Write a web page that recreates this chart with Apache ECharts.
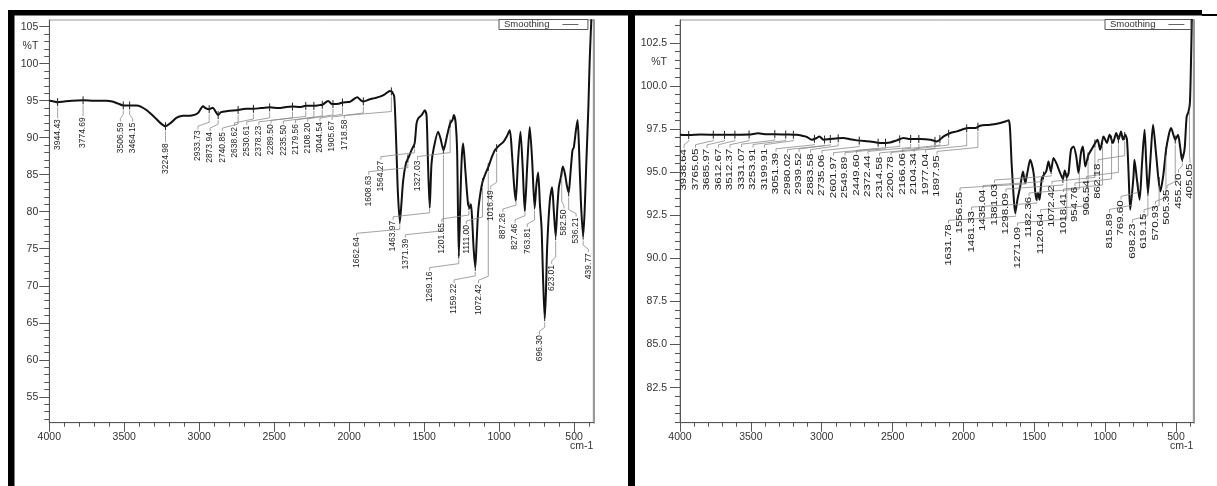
<!DOCTYPE html>
<html><head><meta charset="utf-8">
<script src="https://cdn.jsdelivr.net/npm/echarts@6/dist/echarts.min.js"></script>
<style>html,body{margin:0;padding:0;background:#fff}#c{width:1217px;height:486px}</style>
</head><body><div id="c"></div><script>
// ---------- data ----------
const seriesName = 'Smoothing';
const yUnit = '%T';
const xUnit = 'cm-1';

const leftWn = [4000,3970,3944,3900,3850,3774,3700,3620,3580,3540,3506,3464,3420,3390,3350,3300,3260,3225,3190,3150,3110,3050,3010,2990,2975,2955,2933,2910,2893,2874,2855,2810,2740,2690,2638,2590,2530,2470,2420,2378,2330,2289,2235,2200,2179,2140,2120,2108,2070,2044,2020,1995,1946,1925,1906,1862,1830,1795,1760,1740,1729,1718,1711,1700,1693,1685,1675,1662,1652,1640,1622,1608,1602,1585,1564,1551,1540,1517,1495,1484,1475,1463,1451,1435,1407,1391,1371,1347,1327,1311,1302,1290,1280,1269,1260,1250,1240,1225,1207,1195,1188,1180,1170,1159,1150,1140,1125,1111,1090,1073,1050,1029,1016,996,973,951,929,915,900,889,875,858,843,829,812,796,780,763,752,740,728,717,707,696,688,680,662,647,635,623,612,602,589,575,560,548,536,527,511,502,488,477,468,455,440,430,418,405,396,385];
const leftT = [95.0,94.9,94.8,94.9,95.0,95.05,95.0,95.0,94.9,94.6,94.35,94.35,94.35,94.2,93.7,92.8,92.0,91.55,92.0,92.7,92.95,93.0,93.3,93.9,94.25,93.95,93.85,94.05,93.6,93.05,93.45,93.6,93.75,93.9,93.9,94.0,94.1,94.0,94.15,94.2,94.15,94.3,94.3,94.4,94.45,94.95,94.6,94.55,94.6,94.75,94.8,94.85,95.45,95.1,94.9,95.2,95.35,95.55,95.9,96.2,96.3,96.25,96.1,95.6,93.0,88.5,82.5,78.65,81.0,84.2,86.5,87.2,87.4,88.3,89.2,91.9,92.6,93.05,93.7,93.0,87.0,80.55,86.5,88.7,90.8,89.9,88.3,90.3,91.9,92.4,93.05,92.0,88.0,74.0,80.5,87.0,89.2,85.5,81.0,80.5,81.0,79.0,75.0,72.5,76.0,80.0,82.5,84.0,85.2,86.0,87.3,88.3,88.6,89.0,89.4,90.1,91.0,88.0,83.5,81.5,86.5,90.8,86.0,80.1,86.5,91.45,87.0,80.55,83.5,85.3,81.0,77.8,71.0,65.6,69.0,75.1,81.5,83.3,80.0,76.7,80.5,83.3,84.6,86.1,85.0,83.5,82.6,84.5,88.3,88.7,91.0,92.4,89.0,81.5,76.7,80.0,86.9,94.0,100.5,106];

const rightWn = [4000,3938,3850,3765,3686,3613,3512,3449,3400,3331,3254,3200,3176,3105,3070,3035,3016,2988,2941,2900,2847,2800,2752,2700,2658,2588,2517,2470,2423,2376,2305,2234,2187,2140,2093,2046,1999,1964,1917,1882,1811,1740,1700,1681,1672,1660,1645,1635,1619,1599,1580,1564,1548,1529,1505,1486,1474,1463,1446,1416,1400,1383,1364,1340,1320,1298,1285,1271,1258,1241,1223,1204,1188,1171,1157,1140,1117,1090,1070,1054,1035,1011,988,969,945,922,906,888,874,858,846,835,823,800,793,775,757,740,722,710,698,680,662,640,611,590,570,550,535,505,486,470,458,440,425,412,402,395,387];
const rightT = [97.17,97.15,97.18,97.17,97.16,97.17,97.18,97.25,97.2,97.2,97.18,97.17,97.16,97.04,96.88,96.98,97.07,96.88,96.92,96.95,96.98,96.9,96.84,96.8,96.78,96.69,96.72,96.84,96.98,96.92,96.92,96.88,96.78,97.07,97.27,97.36,97.5,97.56,97.56,97.69,97.75,97.85,97.95,98.0,97.6,95.5,93.5,92.63,93.4,94.17,95.04,94.37,95.0,95.72,94.95,93.4,93.79,93.4,94.66,95.04,95.62,95.04,95.82,95.43,95.0,94.6,95.1,94.7,94.95,96.3,96.49,95.91,94.95,96.1,96.49,95.33,96.01,96.4,96.69,96.88,96.3,97.07,96.69,97.17,96.69,97.27,96.88,97.36,96.88,97.17,96.88,95.0,92.82,94.75,95.72,94.5,93.4,95.5,97.46,95.5,93.79,95.8,97.75,96.0,93.88,94.8,96.3,97.2,97.56,96.88,97.17,96.4,95.72,96.3,98.2,98.5,99.0,101.1,104.5];

const leftPeaks = [3944.43,3774.69,3506.59,3464.15,3224.98,2933.73,2873.94,2740.85,2638.62,2530.61,2378.23,2289.50,2235.50,2179.56,2108.20,2044.54,1905.67,1718.58,1662.64,1608.63,1564.27,1463.97,1371.39,1327.03,1269.16,1201.65,1159.22,1111.00,1072.42,1016.49,887.26,827.46,763.81,696.30,623.01,582.50,536.21,439.77];
const rightPeaks = [3938.64,3765.05,3685.97,3612.67,3512.37,3331.07,3253.91,3199.91,3051.39,2980.02,2939.52,2883.58,2735.06,2601.97,2549.89,2449.60,2372.44,2314.58,2200.78,2166.06,2104.34,1977.04,1897.95,1631.78,1556.55,1481.33,1435.04,1381.03,1298.09,1271.09,1182.36,1120.64,1072.42,1018.41,954.76,906.54,862.18,815.89,769.60,698.23,619.15,570.93,505.35,455.20,405.05];

const xMajorTicks = [4000,3500,3000,2500,2000,1500,1000,500];
const xMinorTicks = [4000,3900,3800,3700,3600,3500,3400,3300,3200,3100,3000,2900,2800,2700,2600,2500,2400,2300,2200,2100,2000,1900,1800,1700,1600,1500,1400,1300,1200,1100,1000,900,800,700,600,500,400];
const leftYMajor = [55,60,65,70,75,80,85,90,95,100,105];
const leftYUnitAt = 102.4;
const rightYMajor = [82.5,85,87.5,90,92.5,95,97.5,100,102.5];
const rightYUnitAt = 101.4;

// ---------- helpers ----------
function range(a, b, s) { const r = []; for (let v = a; v <= b + 1e-9; v += s) r.push(+v.toFixed(2)); return r; }
const leftYMinor = range(52, 105, 1);
const rightYMinor = range(80.5, 103.5, 0.5);

function interp(wn, ws, ts) {
  for (let i = 0; i < ws.length - 1; i++) {
    if (wn <= ws[i] && wn >= ws[i + 1]) {
      const f = (ws[i] - wn) / (ws[i] - ws[i + 1]);
      return ts[i] + f * (ts[i + 1] - ts[i]);
    }
  }
  return ts[ts.length - 1];
}
function spread(targets, gap, lo, hi) {
  const st = [];
  const place = c => { c.first = Math.min(Math.max(c.sumAdj / c.n, lo), hi - (c.n - 1) * gap); };
  targets.forEach(t => {
    const c = { n: 1, sumAdj: t }; place(c); st.push(c);
    while (st.length > 1) {
      const a = st[st.length - 2], b = st[st.length - 1];
      if (a.first + a.n * gap > b.first) {
        a.sumAdj = a.sumAdj + b.sumAdj - b.n * a.n * gap; a.n += b.n; place(a); st.pop();
      } else break;
    }
  });
  const out = [];
  st.forEach(c => { for (let k = 0; k < c.n; k++) out.push(c.first + k * gap); });
  return out;
}
function labelRenderer(peaks, ws, ts, gap, stretch, drop, rightPad) {
  return function (params, api) {
    const pts = peaks.map(p => api.coord([p, interp(p, ws, ts)]));
    const curve = ws.map((w, k) => api.coord([w, ts[k]]));
    const cs = params.coordSys;
    const lx = spread(pts.map(p => p[0]), gap, cs.x + 4, cs.x + cs.width - rightPad);
    const i = params.dataIndex;
    const px = pts[i][0], py = pts[i][1];
    const x = lx[i];
    let low = py;
    curve.forEach(c => { if (c[0] >= x - 5.5 && c[0] <= x + 5.5 && c[1] > low) low = c[1]; });
    const ty = low + drop;
    return {
      type: 'group',
      children: [
        { type: 'line', shape: { x1: px, y1: py - 4, x2: px, y2: py + 4 }, style: { stroke: '#222', lineWidth: 1 } },
        { type: 'polyline', shape: { points: [[px, py + 5], [px, ty - 8], [x, ty - 4], [x, ty - 1]] }, style: { stroke: '#8a8a8a', lineWidth: 0.8, fill: null } },
        { type: 'text', x: x, y: ty, rotation: Math.PI / 2, scaleX: stretch,
          style: { text: peaks[i].toFixed(2), align: 'right', verticalAlign: 'middle', fontSize: 8.5, fontFamily: 'Liberation Sans, Arial, sans-serif', fill: '#222' } }
      ]
    };
  };
}

// ---------- chart ----------
const chart = echarts.init(document.getElementById('c'), null, { renderer: 'canvas' });
const axisCol = '#555', txtCol = '#333', font = 'Liberation Sans, Arial, sans-serif';
const grids = [
  { left: 49.3, top: 20, width: 544, height: 402.7, show: true, borderColor: '#9a9a9a', borderWidth: 1 },
  { left: 680, top: 20, width: 513.3, height: 402.7, show: true, borderColor: '#9a9a9a', borderWidth: 1 }
];
function xAxes(gi, min) {
  return [
    { gridIndex: gi, type: 'value', inverse: true, min: min, max: 4000, position: 'bottom',
      axisLine: { lineStyle: { color: axisCol, width: 1 } },
      axisTick: { customValues: xMajorTicks, length: 9, lineStyle: { color: axisCol } },
      axisLabel: { customValues: xMajorTicks, margin: 9, color: txtCol, fontSize: 10.5, fontFamily: font, formatter: v => String(v) },
      splitLine: { show: false } },
    { gridIndex: gi, type: 'value', inverse: true, min: min, max: 4000, position: 'bottom',
      axisLine: { show: false },
      axisTick: { customValues: xMinorTicks, length: 4, lineStyle: { color: axisCol } },
      axisLabel: { show: false }, splitLine: { show: false } }
  ];
}
function yAxes(gi, min, max, major, minor, unitAt, dec, margin) {
  return [
    { gridIndex: gi, type: 'value', min: min, max: max, position: 'left',
      axisLine: { lineStyle: { color: axisCol, width: 1 } },
      axisTick: { customValues: major, length: 10, lineStyle: { color: axisCol } },
      axisLabel: { customValues: major.concat([unitAt]), margin: margin, color: txtCol, fontSize: 10.5, fontFamily: font,
        formatter: v => (Math.abs(v - unitAt) < 1e-6 ? yUnit : v.toFixed(dec)) },
      splitLine: { show: false } },
    { gridIndex: gi, type: 'value', min: min, max: max, position: 'left',
      axisLine: { show: false },
      axisTick: { customValues: minor, length: 5, lineStyle: { color: axisCol } },
      axisLabel: { show: false }, splitLine: { show: false } },
    { gridIndex: gi, type: 'value', min: min, max: max, position: 'right',
      axisLine: { show: true, lineStyle: { color: '#9a9a9a', width: 2 } },
      axisTick: { show: false }, axisLabel: { show: false }, splitLine: { show: false } }
  ];
}
function legendAt(left, padRight) {
  return { data: [seriesName], left: left, top: 19.5, orient: 'horizontal', align: 'right', selectedMode: false,
    padding: [0, padRight, 0, 5], itemWidth: 16, itemHeight: 8, itemGap: 0,
    borderColor: '#555', borderWidth: 1, backgroundColor: '#fff',
    lineStyle: { color: '#666', width: 1 },
    itemStyle: { color: 'rgba(0,0,0,0)', borderWidth: 0, opacity: 0 },
    textStyle: { fontSize: 9.5, lineHeight: 9, color: '#333', fontFamily: font, padding: [0, 8, 0, 0] } };
}
const lineStyle = { color: '#111', width: 2 };

chart.setOption({
  animation: false,
  backgroundColor: '#fff',
  grid: grids,
  xAxis: xAxes(0, 372).concat(xAxes(1, 378)),
  yAxis: yAxes(0, 51.5, 105.9, leftYMajor, leftYMinor, leftYUnitAt, 0, 11)
    .concat(yAxes(1, 80.47, 103.82, rightYMajor, rightYMinor, rightYUnitAt, 1, 13)),
  legend: [legendAt(499, 9), legendAt(1105, 6)],
  series: [
    { name: seriesName, type: 'line', xAxisIndex: 0, yAxisIndex: 0, symbol: 'none', smooth: 0.25,
      lineStyle: lineStyle, itemStyle: { color: '#111' }, z: 3,
      data: leftWn.map((w, i) => [w, leftT[i]]) },
    { name: seriesName, type: 'line', xAxisIndex: 2, yAxisIndex: 3, symbol: 'none', smooth: 0.25,
      lineStyle: lineStyle, itemStyle: { color: '#111' }, z: 3,
      data: rightWn.map((w, i) => [w, rightT[i]]) },
    { type: 'custom', xAxisIndex: 0, yAxisIndex: 0, silent: true, clip: false, z: 4,
      renderItem: labelRenderer(leftPeaks, leftWn, leftT, 12.2, 1.0, 17, 5),
      data: leftPeaks.map(p => [p, interp(p, leftWn, leftT)]) },
    { type: 'custom', xAxisIndex: 2, yAxisIndex: 3, silent: true, clip: false, z: 4,
      renderItem: labelRenderer(rightPeaks, rightWn, rightT, 11.5, 1.35, 14, 3.3),
      data: rightPeaks.map(p => [p, interp(p, rightWn, rightT)]) }
  ],
  graphic: [
    { type: 'rect', shape: { x: 8, y: 10, width: 1194, height: 5.5 }, style: { fill: '#000' }, silent: true },
    { type: 'rect', shape: { x: 1202, y: 14, width: 15, height: 2 }, style: { fill: '#000' }, silent: true },
    { type: 'rect', shape: { x: 8, y: 10, width: 6.5, height: 476 }, style: { fill: '#000' }, silent: true },
    { type: 'rect', shape: { x: 628, y: 10, width: 7, height: 476 }, style: { fill: '#000' }, silent: true },
    { type: 'text', x: 593.3, y: 446, style: { text: xUnit, align: 'right', verticalAlign: 'middle', fontSize: 10.5, fill: txtCol, fontFamily: font }, silent: true },
    { type: 'text', x: 1193.3, y: 446, style: { text: xUnit, align: 'right', verticalAlign: 'middle', fontSize: 10.5, fill: txtCol, fontFamily: font }, silent: true }
  ]
});
</script></body></html>
